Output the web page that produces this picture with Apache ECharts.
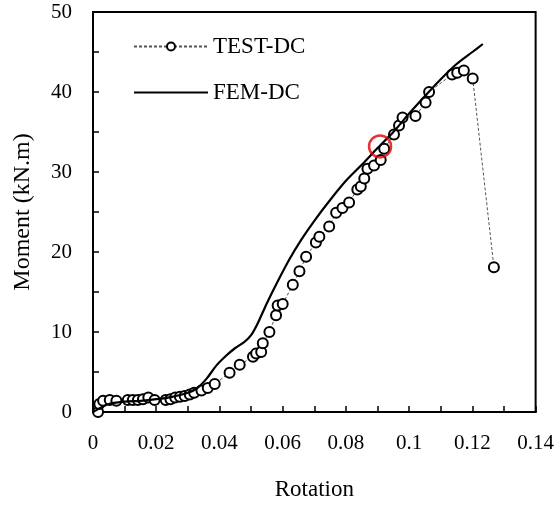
<!DOCTYPE html>
<html>
<head>
<meta charset="utf-8">
<script src="https://cdn.jsdelivr.net/npm/echarts@6/dist/echarts.min.js"></script>
<style>
html,body{margin:0;padding:0;background:#fff;}
#chart{width:557px;height:506px;}
</style>
</head>
<body>
<div id="chart"></div>
<script>
// TEST-DC measured points [rotation, moment]
const testRotation = [0.0016,0.002,0.0032,0.0053,0.0074,0.0110,0.0126,0.0142,0.0158,0.0175,0.0195,0.0230,0.0245,0.0260,0.0275,0.0290,0.0306,0.0320,0.0343,0.0363,0.0385,0.0432,0.0464,0.0506,0.0516,0.0532,0.0537,0.0558,0.0579,0.0584,0.0600,0.0632,0.0653,0.0674,0.0705,0.0716,0.0747,0.0769,0.0789,0.0810,0.0836,0.0847,0.0858,0.0868,0.0889,0.0910,0.0921,0.0952,0.0968,0.0979,0.1020,0.1052,0.1063,0.1136,0.1152,0.1173,0.1201,0.1268];
const testMoment   = [0.0,1.0,1.4,1.5,1.4,1.5,1.5,1.5,1.6,1.8,1.5,1.5,1.6,1.8,1.9,2.0,2.2,2.4,2.7,3.0,3.5,4.9,5.9,6.9,7.3,7.5,8.6,10.0,12.1,13.3,13.5,15.9,17.6,19.4,21.2,21.9,23.2,24.9,25.5,26.2,27.8,28.2,29.2,30.4,30.8,31.5,32.9,34.7,35.8,36.8,37.0,38.7,40.0,42.2,42.4,42.7,41.7,18.1];
// FEM-DC curve
const femRotation = [0,0.005,0.01,0.015,0.02,0.025,0.03,0.033,0.036,0.039,0.042,0.045,0.048,0.05,0.052,0.055,0.058,0.062,0.066,0.07,0.075,0.08,0.085,0.09,0.095,0.1,0.105,0.11,0.115,0.12,0.1233];
const femMoment   = [0,1.0,1.3,1.4,1.6,1.9,2.4,3.0,4.2,5.8,7.0,8.0,8.8,9.6,11.0,13.6,16.0,19.0,21.6,23.9,26.5,28.9,30.9,33.0,35.0,37.3,39.5,41.6,43.5,45.0,46.0];
// highlighted point (red circle)
const markRotation = [0.0908];
const markMoment = [33.2];

const xTicks = {min:0, max:0.14, interval:0.02};
const yTicks = {min:0, max:50, interval:10};

const zip = (a,b) => a.map((v,i)=>[v,b[i]]);
const FONT = "'Liberation Serif','Times New Roman',serif";

const chart = echarts.init(document.getElementById('chart'), null, {renderer:'canvas'});
chart.setOption({
  backgroundColor:'#fff',
  animation:false,
  grid:{left:93,right:20,top:12,bottom:90,show:true,borderColor:'#000',borderWidth:2,backgroundColor:'transparent'},
  legend:{
    data:[
      {name:'TEST-DC'},
      {name:'FEM-DC', itemStyle:{opacity:0,color:'transparent',borderWidth:0}}
    ],
    orient:'vertical',
    left:128, top:30,
    itemWidth:74, itemHeight:10, itemGap:23,
    textStyle:{fontFamily:FONT,fontSize:23,color:'#000'},
    selectedMode:false
  },
  xAxis:{
    type:'value', min:xTicks.min, max:xTicks.max, interval:xTicks.interval,
    name:'Rotation', nameLocation:'middle', nameGap:66,
    nameTextStyle:{fontFamily:FONT,fontSize:23,color:'#000'},
    axisLine:{show:true,onZero:false,lineStyle:{color:'#000',width:2}},
    axisTick:{show:true,inside:true,length:6,lineStyle:{color:'#000',width:1.5}},
    minorTick:{show:true,splitNumber:2,length:6,lineStyle:{color:'#000',width:1.5}},
    splitLine:{show:false},
    axisLabel:{fontFamily:FONT,fontSize:21,color:'#000',margin:21}
  },
  yAxis:{
    type:'value', min:yTicks.min, max:yTicks.max, interval:yTicks.interval,
    name:'Moment (kN.m)', nameLocation:'middle', nameGap:58, nameRotate:90,
    nameTextStyle:{fontFamily:FONT,fontSize:24,color:'#000'},
    axisLine:{show:true,onZero:false,lineStyle:{color:'#000',width:2}},
    axisTick:{show:true,inside:true,length:6,lineStyle:{color:'#000',width:1.5}},
    minorTick:{show:true,splitNumber:2,length:6,lineStyle:{color:'#000',width:1.5}},
    splitLine:{show:false},
    axisLabel:{fontFamily:FONT,fontSize:21,color:'#000',margin:21}
  },
  series:[
    {
      name:'TEST-DC', type:'line', data:zip(testRotation,testMoment),
      symbol:'circle', symbolSize:10, showAllSymbol:true,
      lineStyle:{color:'#555',width:1,type:[3,2]},
      itemStyle:{color:'#fff',borderColor:'#000',borderWidth:2},
      z:2
    },
    {
      name:'FEM-DC', type:'line', data:zip(femRotation,femMoment),
      symbol:'none', smooth:0.3,
      lineStyle:{color:'#000',width:2.2},
      itemStyle:{color:'#000'},
      z:3
    },
    {
      name:'mark', type:'scatter', data:zip(markRotation,markMoment),
      symbol:'circle', symbolSize:22,
      itemStyle:{color:'transparent',borderColor:'#e00000',borderWidth:2.5},
      z:4
    }
  ]
});
</script>
</body>
</html>
